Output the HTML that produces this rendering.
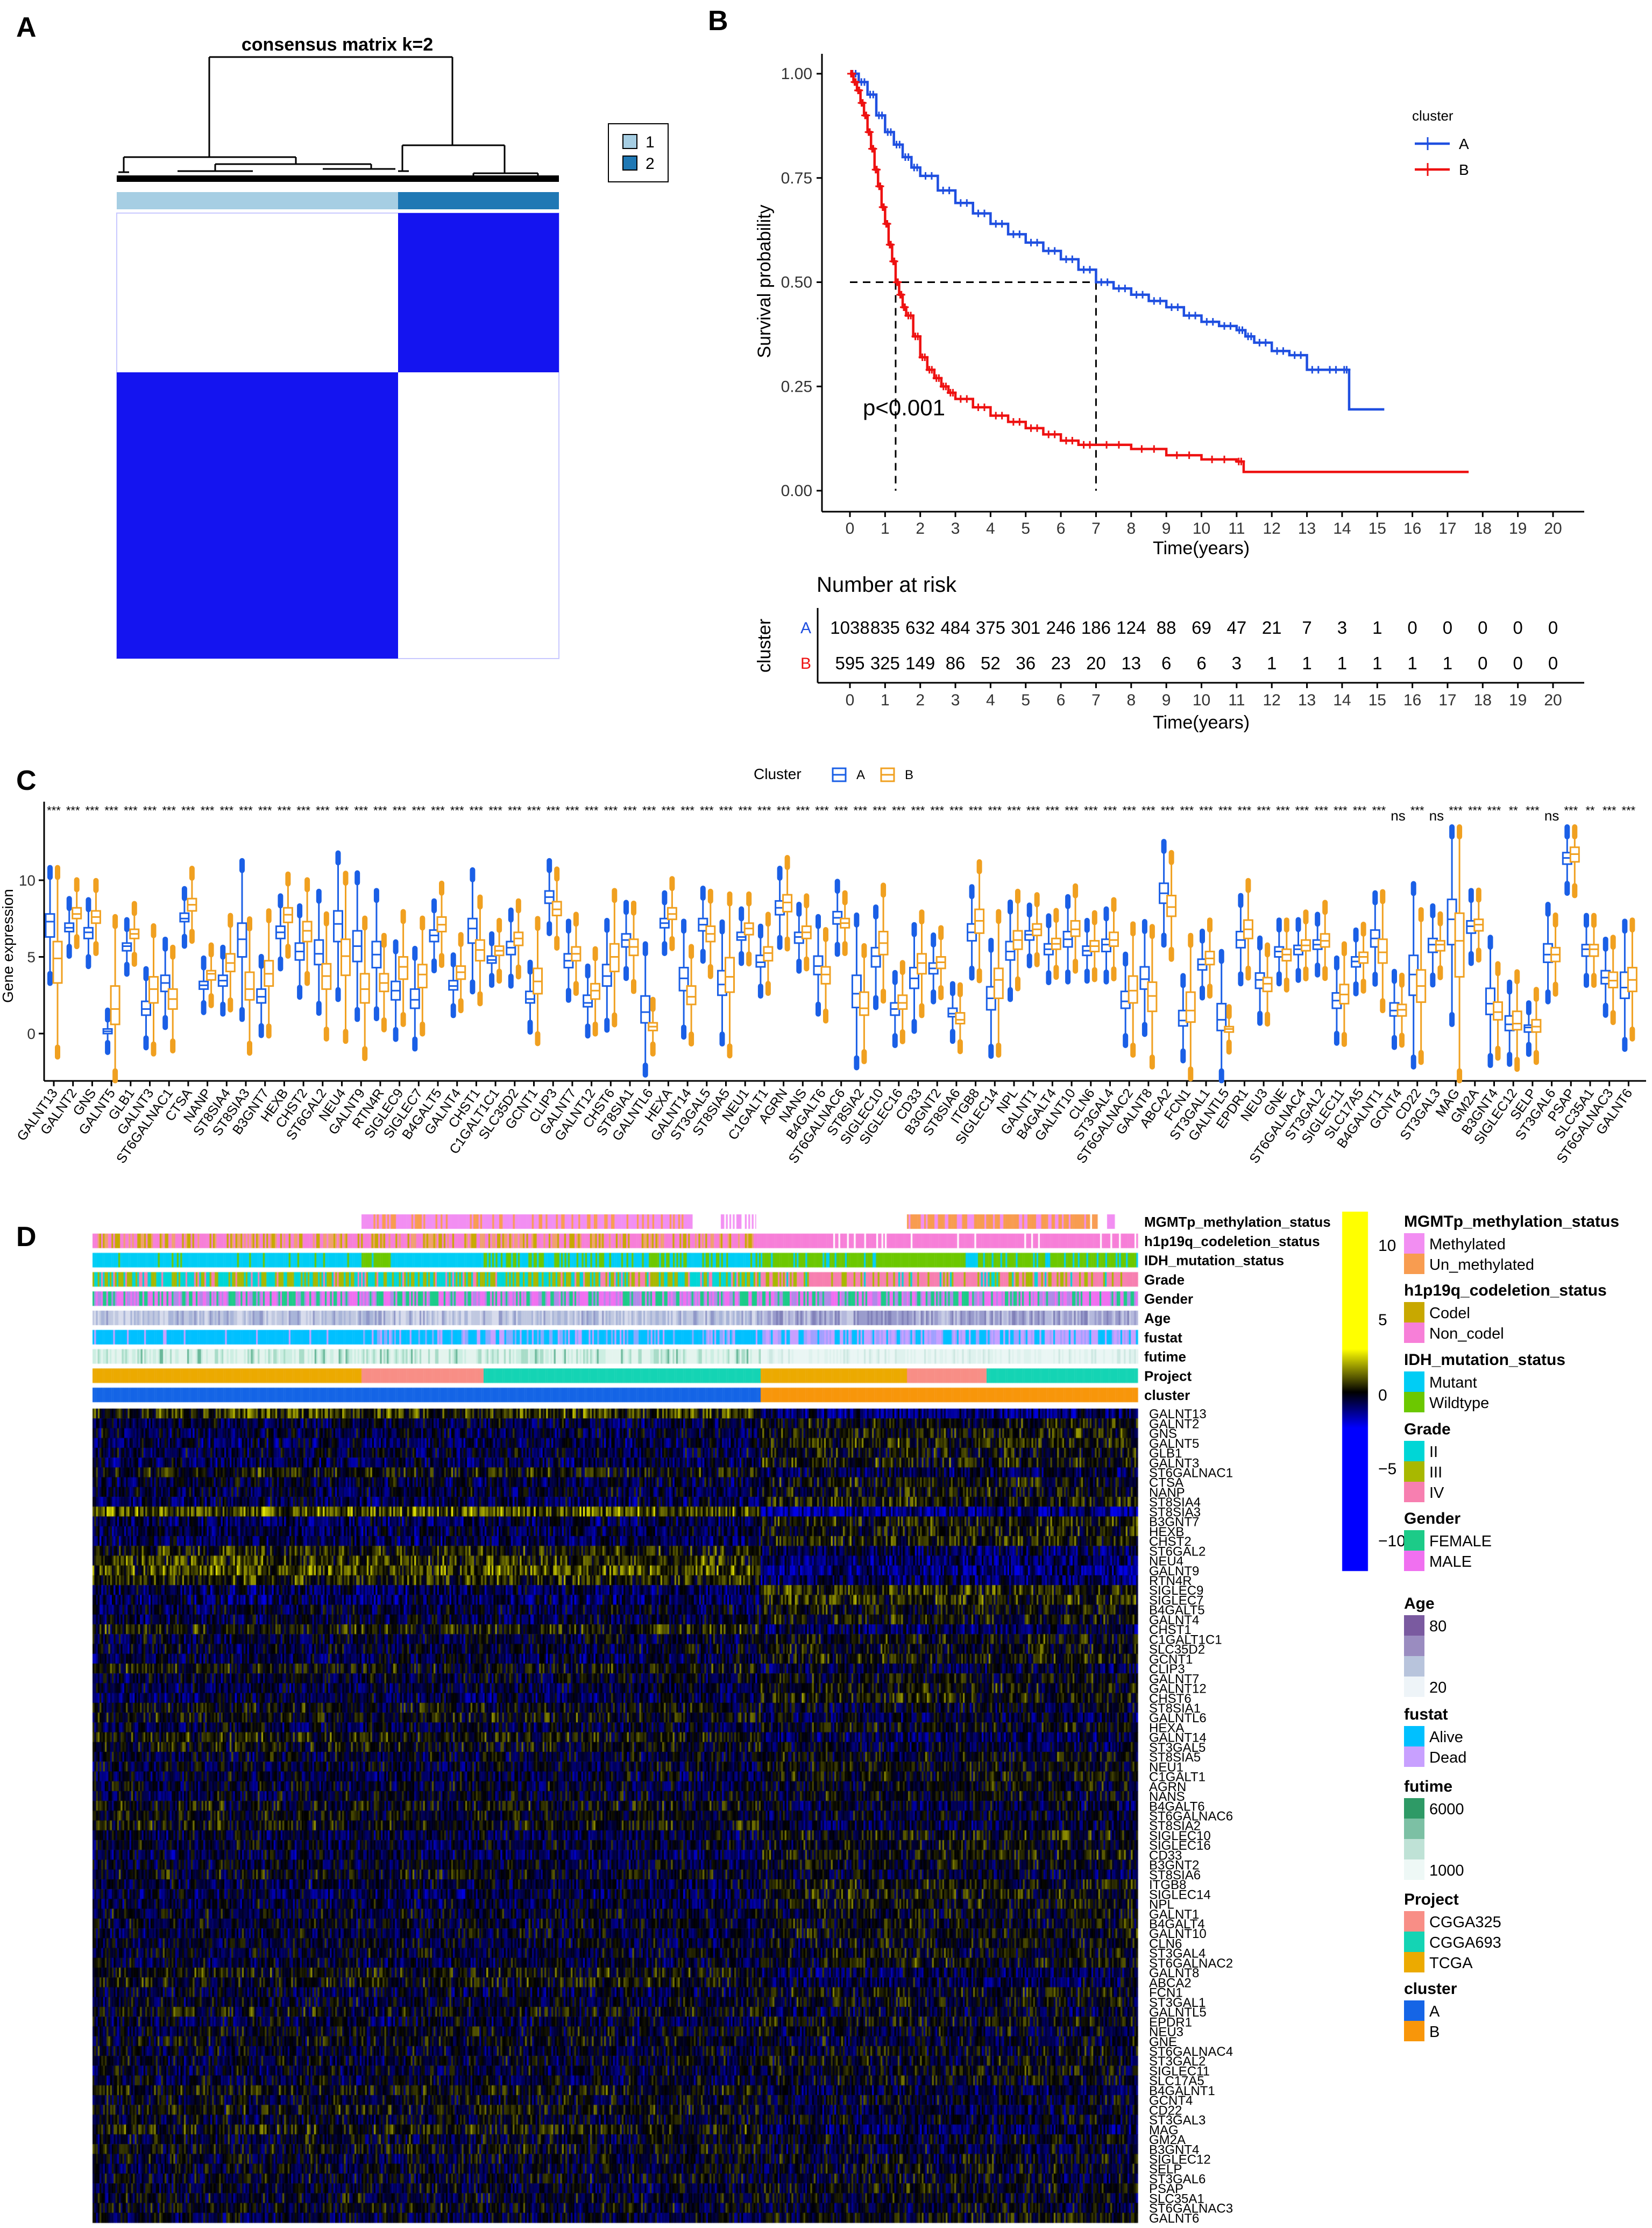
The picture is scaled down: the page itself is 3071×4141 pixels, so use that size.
<!DOCTYPE html>
<html><head><meta charset="utf-8"><style>
html,body{margin:0;padding:0;background:#fff;}
#wrap{position:relative;width:3071px;height:4141px;overflow:hidden;background:#fff;}
canvas,svg{position:absolute;left:0;top:0;}
text{font-family:"Liberation Sans",sans-serif;}
</style></head><body>
<div id="wrap">
<canvas id="cv" width="3071" height="4141"></canvas>
<svg id="sv" width="3071" height="4141" xmlns="http://www.w3.org/2000/svg"></svg>
</div>
<script>
// ---------- DATA ----------
const genes=["GALNT13","GALNT2","GNS","GALNT5","GLB1","GALNT3","ST6GALNAC1","CTSA","NANP","ST8SIA4","ST8SIA3","B3GNT7","HEXB","CHST2","ST6GAL2","NEU4","GALNT9","RTN4R","SIGLEC9","SIGLEC7","B4GALT5","GALNT4","CHST1","C1GALT1C1","SLC35D2","GCNT1","CLIP3","GALNT7","GALNT12","CHST6","ST8SIA1","GALNTL6","HEXA","GALNT14","ST3GAL5","ST8SIA5","NEU1","C1GALT1","AGRN","NANS","B4GALT6","ST6GALNAC6","ST8SIA2","SIGLEC10","SIGLEC16","CD33","B3GNT2","ST8SIA6","ITGB8","SIGLEC14","NPL","GALNT1","B4GALT4","GALNT10","CLN6","ST3GAL4","ST6GALNAC2","GALNT8","ABCA2","FCN1","ST3GAL1","GALNTL5","EPDR1","NEU3","GNE","ST6GALNAC4","ST3GAL2","SIGLEC11","SLC17A5","B4GALNT1","GCNT4","CD22","ST3GAL3","MAG","GM2A","B3GNT4","SIGLEC12","SELP","ST3GAL6","PSAP","SLC35A1","ST6GALNAC3","GALNT6"];
const aMed=[7.3,6.9,6.6,0.15,5.7,1.6,3.3,7.5,3.15,3.45,6.15,2.4,6.6,5.35,5.2,7.15,5.7,5.15,2.8,2.2,6.4,3.1,6.85,4.8,5.6,2.25,8.9,4.75,2.0,3.75,6.1,1.4,7.2,3.6,7.1,3.2,6.3,4.65,8.2,6.3,4.4,7.55,2.6,5.05,1.6,3.6,4.25,1.3,6.6,2.3,5.35,6.45,5.5,6.15,5.4,5.8,2.1,3.55,9.15,0.85,4.5,0.9,6.1,3.5,5.35,5.5,5.8,2.15,4.7,6.2,1.5,3.85,5.8,7.45,7.0,1.95,0.6,0.4,5.15,11.45,5.5,3.65,3.0];
const aQ1=[6.3,6.65,6.2,0,5.4,1.2,2.75,7.3,2.9,3.1,5.0,2.0,6.2,4.8,4.5,6.0,4.7,4.3,2.2,1.65,6.0,2.85,5.9,4.6,5.15,2.0,8.5,4.3,1.75,3.1,5.65,0.7,6.9,2.8,6.7,2.5,6.1,4.35,7.75,5.9,3.85,7.15,1.7,4.35,1.2,2.95,3.9,1.1,6.05,1.55,4.8,6.1,5.15,5.65,5.1,5.35,1.65,2.9,8.5,0.5,4.15,0.2,5.6,2.95,5.0,5.15,5.5,1.65,4.35,5.65,1.15,2.5,5.3,5.8,6.55,1.25,0.2,0.1,4.65,11.05,5.05,3.25,2.3];
const aQ3=[7.8,7.2,6.9,0.3,5.9,2.1,3.8,7.85,3.4,3.8,7.2,2.9,7.0,5.9,6.1,8.0,6.7,6.0,3.4,2.9,6.75,3.45,7.5,5.05,6.0,2.75,9.3,5.2,2.5,4.5,6.5,2.45,7.5,4.3,7.5,4.1,6.6,5.1,8.65,6.6,5.05,7.95,3.8,5.6,2.0,4.3,4.6,1.65,7.15,3.05,6.0,6.7,5.85,6.65,5.7,6.15,2.75,4.35,9.8,1.5,4.85,1.95,6.65,3.95,5.65,5.75,6.1,2.65,5.0,6.75,2.0,5.1,6.2,8.75,7.35,2.95,1.15,0.55,5.85,11.8,5.8,4.1,4.0];
const bMed=[4.9,7.8,7.6,1.6,6.5,2.9,2.25,8.4,3.9,4.6,2.9,3.9,7.75,6.7,3.75,5.05,2.9,3.3,4.35,3.85,7.1,4.0,5.45,5.4,6.2,3.4,8.1,5.2,2.8,5.0,5.65,0.45,7.8,2.4,6.5,3.7,6.85,5.25,8.55,6.6,3.85,7.2,1.65,5.9,2.0,4.6,4.65,0.9,7.35,3.5,6.1,6.8,5.85,6.8,5.7,6.1,2.8,2.45,8.25,1.5,4.9,0.3,6.8,3.25,5.15,5.75,6.05,2.55,5.0,5.3,1.55,3.1,5.8,6.05,7.1,1.4,0.65,0.45,5.15,11.7,5.5,3.45,3.5];
const bQ1=[3.3,7.5,7.2,0.6,6.2,2.0,1.6,8.0,3.5,4.05,2.2,3.1,7.25,6.0,2.9,3.8,2.0,2.75,3.55,3.0,6.65,3.55,4.75,5.1,5.75,2.6,7.7,4.75,2.25,4.05,5.1,0.2,7.45,1.9,6.0,2.7,6.45,4.75,7.95,6.2,3.25,6.9,1.2,5.15,1.6,3.9,4.25,0.65,6.55,2.3,5.5,6.4,5.5,6.35,5.35,5.7,2.0,1.45,7.65,0.75,4.5,0.1,6.2,2.75,4.75,5.4,5.65,1.95,4.6,4.6,1.15,2.05,5.4,3.7,6.7,0.9,0.25,0.1,4.7,11.2,5.05,3.0,2.75];
const bQ3=[6.0,8.2,8.0,3.1,6.8,3.7,2.9,8.8,4.1,5.2,4.0,4.75,8.2,7.3,4.55,6.15,3.9,3.9,5.0,4.5,7.6,4.4,6.1,5.7,6.6,4.25,8.6,5.65,3.25,5.85,6.15,0.7,8.2,3.1,7.0,4.95,7.2,5.65,9.05,7.0,4.35,7.5,2.7,6.65,2.5,5.2,5.0,1.35,8.1,4.25,6.7,7.15,6.2,7.35,6.05,6.6,3.75,3.35,9.0,2.7,5.35,0.45,7.4,3.65,5.5,6.1,6.5,3.2,5.3,6.15,1.9,4.15,6.05,7.85,7.45,2.05,1.45,0.9,5.6,12.15,5.8,4.0,4.3];
const sigLabels=genes.map(()=> "***");
sigLabels[70]="ns";sigLabels[72]="ns";sigLabels[76]="**";sigLabels[78]="ns";sigLabels[80]="**";
const yTicksC=[0,5,10];

const kmTimeA=[0,0.25,0.5,0.75,1,1.25,1.5,1.75,2,2.5,3,3.5,4,4.5,5,5.5,6,6.5,7,7.5,8,8.5,9,9.5,10,10.5,11,11.25,11.5,12,12.5,13,13.5,14,14.2,15.2];
const kmSurvA=[1,0.98,0.95,0.9,0.86,0.83,0.8,0.775,0.755,0.72,0.69,0.665,0.64,0.615,0.595,0.575,0.555,0.53,0.5,0.485,0.47,0.455,0.44,0.42,0.405,0.395,0.385,0.37,0.355,0.335,0.325,0.29,0.29,0.29,0.195,0.195];
const kmTimeB=[0,0.1,0.2,0.3,0.4,0.5,0.6,0.7,0.8,0.9,1,1.1,1.2,1.3,1.4,1.5,1.6,1.8,2,2.2,2.4,2.6,2.8,3,3.5,4,4.5,5,5.5,6,6.5,7,8,9,10,11,11.2,17.6];
const kmSurvB=[1,0.98,0.96,0.93,0.9,0.86,0.82,0.77,0.73,0.68,0.64,0.59,0.55,0.5,0.47,0.44,0.42,0.37,0.32,0.29,0.27,0.25,0.235,0.22,0.2,0.18,0.165,0.15,0.135,0.12,0.11,0.11,0.1,0.085,0.075,0.07,0.045,0.045];
const riskA=[1038,835,632,484,375,301,246,186,124,88,69,47,21,7,3,1,0,0,0,0,0];
const riskB=[595,325,149,86,52,36,23,20,13,6,6,3,1,1,1,1,1,1,0,0,0];
const kmYTicks=[0,0.25,0.5,0.75,1];
const medianA=7, medianB=1.3;

// ---------- helpers ----------
const NS="http://www.w3.org/2000/svg";
const sv=document.getElementById('sv');
function mk(tag,attrs,parent,txt){const e=document.createElementNS(NS,tag);for(const k in attrs)e.setAttribute(k,attrs[k]);if(txt!==undefined)e.textContent=txt;(parent||sv).appendChild(e);return e;}
function grp(name){const g=document.createElementNS(NS,'g');sv.appendChild(g);return g;}

// ---------- panel labels ----------
[["A",30,68],["B",1316,56],["C",30,1468],["D",30,2316]].forEach(p=>{
  const t=mk('text',{x:p[1],y:p[2],'font-size':52,'font-weight':'bold'},sv,p[0]);
  
  
});

// ---------- Panel A ----------
(function(){
  const g=grp('consensus-matrix-panel');
  const x0=217,x1=1039,y0=396,y1=1224,xs=740,ys=692;
  mk('text',{x:627,y:94,'font-size':34,'font-weight':'bold','text-anchor':'middle'},g,'consensus matrix k=2');
  const d=mk('g',{stroke:'#000','stroke-width':3,fill:'none'},g);
  
  const L=(a,b,c,e)=>mk('line',{x1:a,y1:b,x2:c,y2:e},d);
  L(389,106,841,106);L(389,106,389,292);L(841,106,841,270);
  L(230,292,550,292);L(748,270,938,270);
  L(230,292,230,320);L(550,292,550,305);L(748,270,748,318);L(938,270,938,322);
  L(220,320,240,320);L(400,305,690,305);L(400,305,400,318);L(690,305,690,314);
  L(740,318,760,318);L(880,322,1000,322);L(880,322,880,330);L(1000,322,1000,330);
  L(330,318,470,318);L(600,314,735,314);
  mk('rect',{x:217,y:326,width:822,height:12,fill:'#000'},g);
  mk('rect',{x:x0,y:357,width:xs-x0,height:32,fill:'#a6cee3'},g);
  mk('rect',{x:xs,y:357,width:x1-xs,height:32,fill:'#1f78b4'},g);
  const m=mk('g',{},g);
  mk('rect',{x:x0,y:y0,width:x1-x0,height:y1-y0,fill:'#fff',stroke:'#c8c8ff','stroke-width':2},m);
  mk('rect',{x:xs,y:y0,width:x1-xs,height:ys-y0,fill:'#1414f0'},m);
  mk('rect',{x:x0,y:ys,width:xs-x0,height:y1-ys,fill:'#1414f0'},m);
  const lg=mk('g',{},g);
  mk('rect',{x:1131,y:230,width:111,height:108,fill:'#fff',stroke:'#000','stroke-width':2},lg);
  mk('rect',{x:1158,y:250,width:26,height:26,fill:'#a6cee3',stroke:'#000','stroke-width':2},lg);
  mk('rect',{x:1158,y:290,width:26,height:26,fill:'#1f78b4',stroke:'#000','stroke-width':2},lg);
  mk('text',{x:1200,y:274,'font-size':30},lg,'1');
  mk('text',{x:1200,y:314,'font-size':30},lg,'2');
})();

// ---------- Panel B ----------
(function(){
  const g=grp('survival-panel');
  const X=t=>1580+65.35*t, Y=s=>912-775*s;
  mk('line',{x1:1528,y1:100,x2:1528,y2:951,stroke:'#000','stroke-width':3},g);
  mk('line',{x1:1528,y1:951,x2:2945,y2:951,stroke:'#000','stroke-width':3},g);
  kmYTicks.forEach(v=>{
    mk('line',{x1:1518,y1:Y(v),x2:1528,y2:Y(v),stroke:'#000','stroke-width':3},g);
    mk('text',{x:1510,y:Y(v)+10,'font-size':30,'text-anchor':'end',fill:'#333'},g,v.toFixed(2));
  });
  for(let t=0;t<=20;t++){
    mk('line',{x1:X(t),y1:951,x2:X(t),y2:961,stroke:'#000','stroke-width':3},g);
    mk('text',{x:X(t),y:992,'font-size':30,'text-anchor':'middle',fill:'#333'},g,t);
  }
  mk('text',{x:2233,y:1030,'font-size':34,'text-anchor':'middle'},g,'Time(years)');
  mk('text',{x:0,y:0,'font-size':34,'text-anchor':'middle',transform:'translate(1432,523) rotate(-90)'},g,'Survival probability');
  const dash={stroke:'#000','stroke-width':3,'stroke-dasharray':'14,10',fill:'none'};
  mk('line',Object.assign({x1:X(0),y1:Y(0.5),x2:X(medianA),y2:Y(0.5)},dash),g);
  mk('line',Object.assign({x1:X(medianB),y1:Y(0.5),x2:X(medianB),y2:Y(0)},dash),g);
  mk('line',Object.assign({x1:X(medianA),y1:Y(0.5),x2:X(medianA),y2:Y(0)},dash),g);
  function curve(ts,ss,col,name){
    let d='M'+X(ts[0])+','+Y(ss[0]);
    for(let i=1;i<ts.length;i++){d+=' H'+X(ts[i])+' V'+Y(ss[i]);}
    const p=mk('path',{d:d,stroke:col,'stroke-width':4.5,fill:'none'},g);
    
    let c='';
    for(let i=1;i<ts.length-1;i++){
      const ym=Y(ss[i-1]);
      [0.3,0.65].forEach(f=>{
        const xm=X(ts[i-1])+(X(ts[i])-X(ts[i-1]))*f;
        c+='M'+(xm-7)+','+ym+'h14M'+xm+','+(ym-7)+'v14';
      });
    }
    mk('path',{d:c,stroke:col,'stroke-width':3,fill:'none'},g);
  }
  curve(kmTimeA,kmSurvA,'#1f4fe0','km-curve-a');
  curve(kmTimeB,kmSurvB,'#ee1111','km-curve-b');
  mk('text',{x:1604,y:772,'font-size':42},g,'p<0.001');
  mk('text',{x:2625,y:224,'font-size':26},g,'cluster');
  mk('line',{x1:2630,y1:267,x2:2695,y2:267,stroke:'#1f4fe0','stroke-width':4.5},g);
  mk('line',{x1:2654,y1:255,x2:2654,y2:279,stroke:'#1f4fe0','stroke-width':3},g);
  mk('line',{x1:2630,y1:315,x2:2695,y2:315,stroke:'#ee1111','stroke-width':4.5},g);
  mk('line',{x1:2654,y1:303,x2:2654,y2:327,stroke:'#ee1111','stroke-width':3},g);
  mk('text',{x:2712,y:277,'font-size':28},g,'A');
  mk('text',{x:2712,y:325,'font-size':28},g,'B');
  const r=grp('risk-table');
  mk('text',{x:1518,y:1100,'font-size':40},r,'Number at risk');
  mk('line',{x1:1520,y1:1130,x2:1520,y2:1269,stroke:'#000','stroke-width':3},r);
  mk('line',{x1:1520,y1:1269,x2:2945,y2:1269,stroke:'#000','stroke-width':3},r);
  mk('text',{x:0,y:0,'font-size':34,'text-anchor':'middle',transform:'translate(1432,1200) rotate(-90)'},r,'cluster');
  mk('text',{x:1508,y:1177,'font-size':30,'text-anchor':'end',fill:'#1f4fe0'},r,'A');
  mk('text',{x:1508,y:1243,'font-size':30,'text-anchor':'end',fill:'#ee1111'},r,'B');
  for(let t=0;t<=20;t++){
    mk('text',{x:X(t),y:1178,'font-size':33,'text-anchor':'middle'},r,riskA[t]);
    mk('text',{x:X(t),y:1244,'font-size':33,'text-anchor':'middle'},r,riskB[t]);
    mk('line',{x1:X(t),y1:1269,x2:X(t),y2:1279,stroke:'#000','stroke-width':3},r);
    mk('text',{x:X(t),y:1311,'font-size':30,'text-anchor':'middle',fill:'#333'},r,t);
  }
  mk('text',{x:2233,y:1354,'font-size':34,'text-anchor':'middle'},r,'Time(years)');
})();

// ---------- Panel C ----------
(function(){
  const g=grp('boxplot-panel');
  const X=i=>100+35.7*i, Y=v=>1921-28.5*v;
  const top=1490,bot=2009;
  mk('line',{x1:82,y1:top,x2:82,y2:bot,stroke:'#000','stroke-width':3},g);
  mk('line',{x1:82,y1:bot,x2:3060,y2:bot,stroke:'#000','stroke-width':3},g);
  yTicksC.forEach(v=>{
    mk('line',{x1:72,y1:Y(v),x2:82,y2:Y(v),stroke:'#000','stroke-width':3},g);
    mk('text',{x:66,y:Y(v)+10,'font-size':28,'text-anchor':'end',fill:'#333'},g,v);
  });
  mk('text',{x:0,y:0,'font-size':28,'text-anchor':'middle',transform:'translate(24,1758) rotate(-90)'},g,'Gene expression');
  mk('text',{x:1401,y:1448,'font-size':28},g,'Cluster');
  mk('rect',{x:1548,y:1428,width:24,height:24,fill:'none',stroke:'#1a5fe6','stroke-width':3},g);
  mk('line',{x1:1548,y1:1440,x2:1572,y2:1440,stroke:'#1a5fe6','stroke-width':3},g);
  mk('text',{x:1592,y:1448,'font-size':24},g,'A');
  mk('rect',{x:1638,y:1428,width:24,height:24,fill:'none',stroke:'#f0a020','stroke-width':3},g);
  mk('line',{x1:1638,y1:1440,x2:1662,y2:1440,stroke:'#f0a020','stroke-width':3},g);
  mk('text',{x:1682,y:1448,'font-size':24},g,'B');
  function box(cx,q1,md,q3,col,name){
    const iqr=q3-q1, lo=Math.max(-2.3,q1-1.5*iqr), hi=Math.min(12.7,q3+1.5*iqr);
    const b=mk('g',{stroke:col,'stroke-width':3,fill:'none'},g);
    
    mk('line',{x1:cx,y1:Y(hi),x2:cx,y2:Y(q3)},b);
    mk('line',{x1:cx,y1:Y(q1),x2:cx,y2:Y(lo)},b);
    mk('rect',{x:cx-8,y:Y(q3),width:16,height:Math.max(2,Y(q1)-Y(q3)),fill:'#fff'},b);
    mk('line',{x1:cx-8,y1:Y(md),x2:cx+8,y2:Y(md)},b);
    mk('line',{x1:cx,y1:Y(hi)-4,x2:cx,y2:Y(hi)-22,'stroke-width':10,'stroke-linecap':'round'},b);
    mk('line',{x1:cx,y1:Y(lo)+4,x2:cx,y2:Y(lo)+22,'stroke-width':10,'stroke-linecap':'round'},b);
  }
  genes.forEach((gn,i)=>{
    const x=X(i);
    box(x-7,aQ1[i],aMed[i],aQ3[i],'#1a5fe6','box-a-'+gn.toLowerCase());
    box(x+7,bQ1[i],bMed[i],bQ3[i],'#f0a020','box-b-'+gn.toLowerCase());
    mk('line',{x1:x,y1:bot,x2:x,y2:bot+10,stroke:'#000','stroke-width':3},g);
    const t=mk('text',{x:0,y:0,'font-size':25,'text-anchor':'end',transform:'translate('+(x+8)+','+(bot+22)+') rotate(-55)'},g,gn);
    
    const ns=sigLabels[i]==='ns';
    mk('text',{x:x,y:ns?1525:1514,'font-size':ns?26:22,'text-anchor':'middle'},g,sigLabels[i]);
  });
})();

// ---------- Panel D ----------
const hmX0=172,hmX1=2115,hmSplit=1414,hmY0=2618,hmY1=4131;
const nColA=380,nColB=220;
const trackNames=["MGMTp_methylation_status","h1p19q_codeletion_status","IDH_mutation_status","Grade","Gender","Age","fustat","futime","Project","cluster"];
const C={meth:'#f28ef2',unm:'#f89c50',codel:'#c8a800',non:'#f77fd8',mut:'#00cdf5',wt:'#6cc800',g2:'#00d6d6',g3:'#a8b800',g4:'#f77fb0',fem:'#1ccb88',male:'#f070f0',alive:'#00c0ff',dead:'#c8a0ff',cgga325:'#f88e86',cgga693:'#14d4b4',tcga:'#ecaa00',clA:'#1565e6',clB:'#f8960a'};
const trackSegs=[
 [[172,672,['#fff'],[1]],[672,1287,[C.meth,C.unm],[0.65,0.35]],[1340,1405,[C.meth,'#fff'],[0.6,0.4]],[1686,2026,[C.unm,C.meth],[0.65,0.35]],[2030,2040,[C.unm],[1]],[2058,2072,[C.meth],[1]]],
 [[172,1405,[C.non,C.codel,'#f0a070'],[0.5,0.25,0.25]],[1405,2115,[C.non,'#fff'],[0.92,0.08]]],
 [[172,672,[C.mut,C.wt],[0.93,0.07]],[672,732,[C.wt,C.mut],[0.8,0.2]],[732,899,[C.mut],[1]],[899,1414,[C.mut,C.wt],[0.6,0.4]],[1414,1686,[C.wt,C.mut],[0.85,0.15]],[1686,1795,[C.wt],[1]],[1795,1818,[C.mut],[1]],[1818,2115,[C.wt,C.mut],[0.85,0.15]]],
 [[172,1414,[C.g2,C.g3,C.g4],[0.4,0.45,0.15]],[1414,2115,[C.g2,C.g3,C.g4],[0.07,0.3,0.63]]],
 [[172,2115,[C.fem,C.male,'#b08ae8'],[0.35,0.4,0.25]]],
 [[172,1414,['#c0c8e0','#a8b4d8','#d8dcec','#9098c8'],[0.35,0.3,0.25,0.1]],[1414,2115,['#9a9ccc','#8080b8','#b4b8dc','#c8cce4'],[0.35,0.25,0.25,0.15]]],
 [[172,672,[C.alive,C.dead],[0.95,0.05]],[672,1414,[C.alive,C.dead,'#88aaff'],[0.55,0.2,0.25]],[1414,2115,[C.alive,C.dead,'#a0a0ff'],[0.35,0.4,0.25]]],
 [[172,1414,['#e4f4ee','#cceee2','#a8dcc8','#6ab89a'],[0.45,0.3,0.18,0.07]],[1414,2115,['#eaf6f4','#dff2ee','#cde8e2'],[0.5,0.35,0.15]]],
 [[172,672,[C.tcga],[1]],[672,899,[C.cgga325],[1]],[899,1414,[C.cgga693],[1]],[1414,1686,[C.tcga],[1]],[1686,1834,[C.cgga325],[1]],[1834,2115,[C.cgga693],[1]]],
 [[172,1414,[C.clA],[1]],[1414,2115,[C.clB],[1]]]
];
(function(){
  const cv=document.getElementById('cv'),ctx=cv.getContext('2d');
  function hash(a,b){let h=(a*374761393+b*668265263)^0x5bd1e995;h=(h^(h>>>13))*1274126177;h=h^(h>>>16);return ((h>>>0)%100000)/100000;}
  trackSegs.forEach((segs,ti)=>{
    const ty=2257+35.8*ti;
    segs.forEach((s,si)=>{
      const w=3.2;
      for(let x=s[0];x<s[1];x+=w){
        const r=hash(Math.round(x*7)+ti*13,ti*31+si);
        let acc=0,col=s[2][0];
        for(let k=0;k<s[3].length;k++){acc+=s[3][k];if(r<acc){col=s[2][k];break;}}
        ctx.fillStyle=col;ctx.fillRect(x,ty,Math.min(w,s[1]-x)+0.5,27);
      }
    });
  });
  const nR=genes.length,rh=(hmY1-hmY0)/nR;
  function colr(v){
    const t=Math.max(-1,Math.min(1,v/5));
    if(t>=0){const k=Math.pow(t,1.3);return 'rgb('+Math.round(235*k)+','+Math.round(235*k)+',0)';}
    return 'rgb(0,0,'+Math.round(230*Math.pow(-t,1.1))+')';
  }
  for(let r=0;r<nR;r++){
    const d=aMed[r]-bMed[r];
    for(let c=0;c<nColA+nColB;c++){
      const inA=c<nColA;
      const x=inA?hmX0+(hmSplit-hmX0)*c/nColA:hmSplit+(hmX1-hmSplit)*(c-nColA)/nColB;
      const w=inA?(hmSplit-hmX0)/nColA:(hmX1-hmSplit)/nColB;
      const base=(inA?1:-1)*d*0.8-0.6;
      const v=base+(hash(c*3+1,r*7+5)-0.5)*5+(hash(c,r)-0.5)*2;
      ctx.fillStyle=colr(v);ctx.fillRect(x,hmY0+r*rh,w+0.6,rh+0.6);
    }
  }
  const gr=ctx.createLinearGradient(0,2255,0,2920);
  gr.addColorStop(0,'#ffff00');gr.addColorStop(0.38,'#ffff00');gr.addColorStop(0.5,'#000000');gr.addColorStop(0.6,'#0000ff');gr.addColorStop(1,'#0000ff');
  ctx.fillStyle=gr;ctx.fillRect(2495,2252,48,668);
})();
(function(){
  const g=grp('heatmap-labels');
  trackNames.forEach((n,i)=>{
    const t=mk('text',{x:2127,y:2257+35.8*i+23,'font-size':26,'font-weight':'bold'},g,n);
    
  });
  const rh=(hmY1-hmY0)/genes.length;
  genes.forEach((n,i)=>{
    const t=mk('text',{x:2136,y:hmY0+rh*i+rh/2+9,'font-size':24},g,n);
    
  });
  const cbT=[[10,2313],[5,2451],[0,2591],[-5,2728],[-10,2862]];
  cbT.forEach(c=>mk('text',{x:2562,y:c[1]+12,'font-size':30},g,c[0]===0?'0':(c[0]<0?'\u2212'+(-c[0]):c[0])));
  const L=grp('annotation-legend');
  const items=[
    ["MGMTp_methylation_status",2280,[["Methylated",C.meth],["Un_methylated",C.unm]]],
    ["h1p19q_codeletion_status",2408,[["Codel",C.codel],["Non_codel",C.non]]],
    ["IDH_mutation_status",2537,[["Mutant",C.mut],["Wildtype",C.wt]]],
    ["Grade",2666,[["II",C.g2],["III",C.g3],["IV",C.g4]]],
    ["Gender",2832,[["FEMALE",C.fem],["MALE",C.male]]],
    ["fustat",3196,[["Alive",C.alive],["Dead",C.dead]]],
    ["Project",3540,[["CGGA325",C.cgga325],["CGGA693",C.cgga693],["TCGA",C.tcga]]],
    ["cluster",3706,[["A",C.clA],["B",C.clB]]]
  ];
  items.forEach(it=>{
    mk('text',{x:2610,y:it[1],'font-size':30,'font-weight':'bold'},L,it[0]);
    it[2].forEach((e,k)=>{
      const y=it[1]+12+k*38;
      mk('rect',{x:2610,y:y,width:38,height:38,fill:e[1]},L);
      mk('text',{x:2657,y:y+30,'font-size':29},L,e[0]);
    });
  });
  const grads=[["Age",2990,['#7a5aa0','#9a8cc0','#b8c4dc','#eef4f8'],["80","20"]],["futime",3330,['#2e9a66','#7cc0a4','#bfe2d6','#eef8f6'],["6000","1000"]]];
  grads.forEach(gd=>{
    mk('text',{x:2610,y:gd[1],'font-size':30,'font-weight':'bold'},L,gd[0]);
    gd[2].forEach((c,k)=>mk('rect',{x:2610,y:gd[1]+12+k*38,width:38,height:38,fill:c},L));
    mk('text',{x:2657,y:gd[1]+42,'font-size':29},L,gd[3][0]);
    mk('text',{x:2657,y:gd[1]+156,'font-size':29},L,gd[3][1]);
  });
})();
</script>
</body></html>
